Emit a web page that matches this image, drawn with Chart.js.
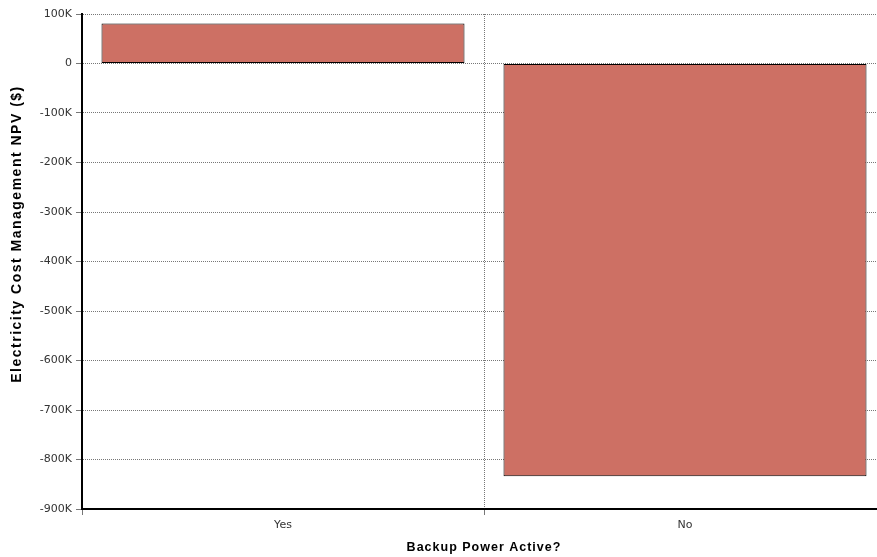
<!DOCTYPE html>
<html>
<head>
<meta charset="utf-8">
<script src="https://cdn.jsdelivr.net/npm/chart.js@4.4.0/dist/chart.umd.min.js"></script>
<style>
  html, body { margin: 0; padding: 0; background: #fff; overflow: hidden; }
  #wrap { width: 886px; height: 557px; position: relative; }
</style>
</head>
<body>
<div id="wrap"><canvas id="chart"></canvas></div>
<script>
// values
var categories = ['Yes', 'No'];
var npvValues = [81000, -834000];
var yMin = -900000;
var yMax = 100000;
var yStep = 100000;
var xTitle = 'Backup Power Active?';
var yTitle = 'Electricity Cost Management NPV ($)';

var ctx = document.getElementById('chart');

// axis titles drawn by hand: spaced out a bit, y title sits above the middle
var axisTitles = {
    id: 'axisTitles',
    afterDraw: function (chart) {
        var c = chart.ctx;
        c.save();
        c.fillStyle = '#000';
        c.textAlign = 'center';
        c.textBaseline = 'middle';
        c.letterSpacing = '1px';
        c.font = 'bold 12.5px "Liberation Sans"';
        c.fillText(xTitle, 484, 548);
        c.letterSpacing = '1.5px';
        c.font = 'bold 14px "Liberation Sans"';
        c.translate(17, 234);
        c.rotate(-Math.PI / 2);
        c.fillText(yTitle, 0, 0);
        c.restore();
    }
};

// plot runs a little past the right edge of the window, as in the original
new Chart(ctx, {
    type: 'bar',
    data: {
        labels: categories,
        datasets: [{
            data: npvValues,
            backgroundColor: '#CD7064',
            borderColor: '#000',
            borderWidth: 1,
            borderSkipped: false,
            categoryPercentage: 1,
            barPercentage: 0.903
        }]
    },
    options: {
        responsive: true,
        maintainAspectRatio: false,
        animation: false,
        layout: { padding: { top: 14, right: 0, left: 0, bottom: 0 } },
        plugins: {
            legend: { display: false },
            tooltip: { enabled: false }
        },
        scales: {
            x: {
                offset: true,
                grid: { color: '#777', offset: true, tickLength: 6, drawTicks: true },
                border: { display: true, color: '#000', width: 2, dash: [1, 1] },
                ticks: { color: '#333', font: { family: 'DejaVu Sans', size: 11 }, padding: 4 },
                afterFit: function (scale) { scale.height = 48; }
            },
            y: {
                min: yMin,
                max: yMax,
                grid: { color: '#777', tickLength: 6 },
                border: { display: true, color: '#000', width: 2, dash: [1, 1] },
                ticks: {
                    stepSize: yStep,
                    color: '#333',
                    font: { family: 'DejaVu Sans', size: 11 },
                    padding: 4,
                    callback: function (v) { return v === 0 ? '0' : (v / 1000) + 'K'; }
                },
                afterFit: function (scale) { scale.width = 82; }
            }
        }
    },
    plugins: [axisTitles]
});
</script>
</body>
</html>
